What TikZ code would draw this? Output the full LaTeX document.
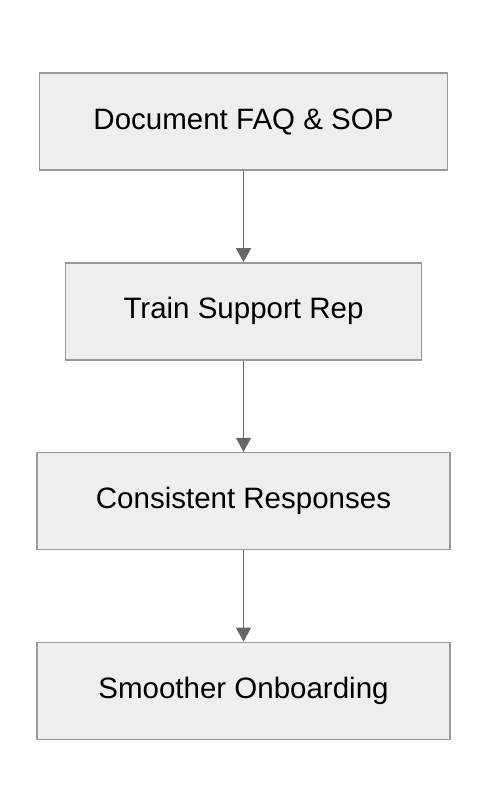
\documentclass[tikz,border=0pt]{standalone}
\usepackage{fontspec}
\setmainfont{Liberation Sans}
\usepackage{xcolor}
\usepackage{tikz}
\usetikzlibrary{arrows.meta,shapes,positioning}

\definecolor{boxfill}{HTML}{EEEEEE}
\definecolor{boxline}{HTML}{999999}
\definecolor{arrowgray}{HTML}{666666}

\begin{document}
\begin{tikzpicture}[
    block/.style={rectangle, draw=boxline, fill=boxfill, line width=1.5pt, minimum height=97pt, text centered, font=\fontsize{29.5}{35}\selectfont},
    arrow/.style={draw=arrowgray, line width=1.5pt, -{Triangle[width=15pt,length=14pt]}},
    node distance=91.3pt
  ]
    \useasboundingbox (0pt,0pt) rectangle (488pt,-812pt);

    % Nodes
    \node[block, minimum width=408pt] (doc) at (243.5pt,-121.5pt) {Document FAQ \& SOP};
    \node[block, minimum width=356pt, below=of doc] (train) {Train Support Rep};
    \node[block, minimum width=413pt, below=of train] (consist) {Consistent Responses};
    \node[block, minimum width=413pt, below=of consist] (onboard) {Smoother Onboarding};

    % Arrows
    \draw[arrow] (doc) -- (train);
    \draw[arrow] (train) -- (consist);
    \draw[arrow] (consist) -- (onboard);
  \end{tikzpicture}
\end{document}
